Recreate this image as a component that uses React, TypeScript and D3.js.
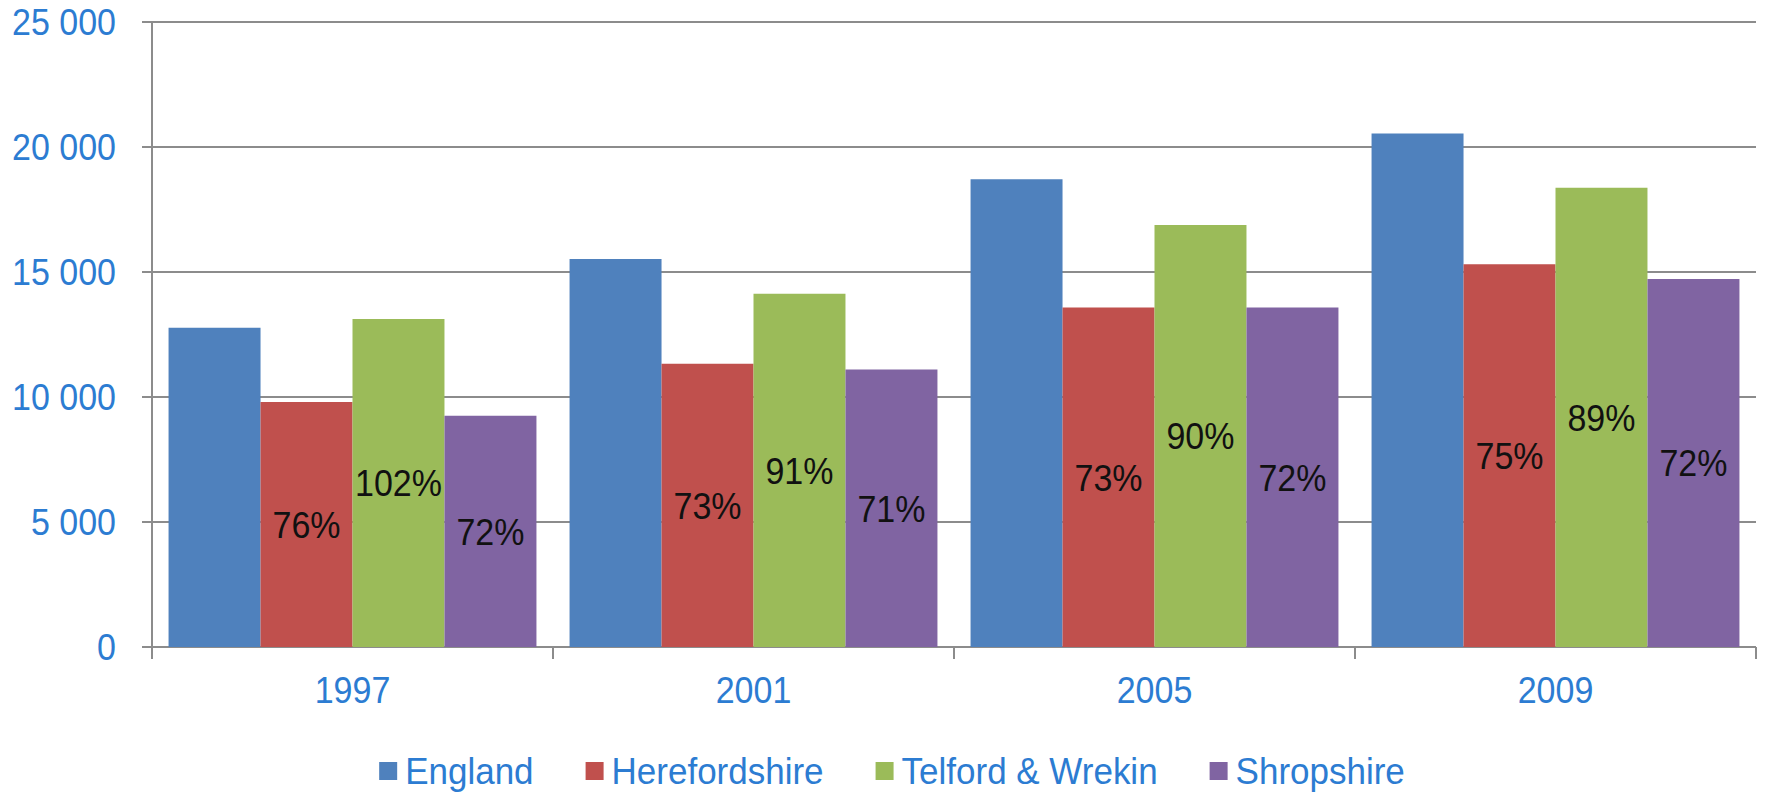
import React, { useEffect, useRef } from "react";
import * as d3 from "d3";

const years = ["1997", "2001", "2005", "2009"];
const seriesNames = ["England", "Herefordshire", "Telford & Wrekin", "Shropshire"];
const england = [12770, 15520, 18710, 20540];
const herefordshire = [9800, 11330, 13580, 15310];
const telford = [13120, 14130, 16880, 18370];
const shropshire = [9250, 11100, 13580, 14720];
const herefordshirePct = ["76%", "73%", "73%", "75%"];
const telfordPct = ["102%", "91%", "90%", "89%"];
const shropshirePct = ["72%", "71%", "72%", "72%"];
const yTicks = [0, 5000, 10000, 15000, 20000, 25000];

const colors = ["#4F81BD", "#C0504D", "#9BBB59", "#8064A2"];

export default function App() {
  const ref = useRef<SVGSVGElement>(null);

  useEffect(() => {
    const width = 1767,
      height = 794;
    const left = 152,
      right = 1756,
      top = 22,
      bottom = 647;
    const font = "'Liberation Sans', Arial, sans-serif";
    const textBlue = "#2C7CD2";
    const grid = "#8C8C8C";

    const values = [england, herefordshire, telford, shropshire];
    const labels: (string[] | null)[] = [null, herefordshirePct, telfordPct, shropshirePct];

    const svg = d3.select(ref.current);
    svg.selectAll("*").remove(); // clear previous chart
    svg.attr("width", width).attr("height", height);

    const x = d3.scaleBand().domain(years).range([left, right]).padding(0);
    const xs = d3
      .scaleBand()
      .domain(seriesNames)
      .range([0, x.bandwidth()])
      .paddingInner(0)
      .paddingOuter(0.18);
    const y = d3.scaleLinear().domain([0, 25000]).range([bottom, top]);

    const fmt = d3.formatLocale({
      decimal: ".",
      thousands: " ",
      grouping: [3],
      currency: ["", ""],
    }).format(",");

    // gridlines + left ticks
    svg
      .append("g")
      .selectAll("line")
      .data(yTicks)
      .enter()
      .append("line")
      .attr("x1", left - 10)
      .attr("x2", right)
      .attr("y1", (d) => y(d))
      .attr("y2", (d) => y(d))
      .attr("stroke", grid)
      .attr("stroke-width", 2);

    // y axis line
    svg
      .append("line")
      .attr("x1", left)
      .attr("x2", left)
      .attr("y1", top)
      .attr("y2", bottom + 12)
      .attr("stroke", grid)
      .attr("stroke-width", 2);

    // category ticks
    svg
      .append("g")
      .selectAll("line")
      .data(years)
      .enter()
      .append("line")
      .attr("x1", (d) => x(d)! + x.bandwidth())
      .attr("x2", (d) => x(d)! + x.bandwidth())
      .attr("y1", bottom)
      .attr("y2", bottom + 12)
      .attr("stroke", grid)
      .attr("stroke-width", 2);

    // y tick labels
    svg
      .append("g")
      .selectAll("text")
      .data(yTicks)
      .enter()
      .append("text")
      .attr("transform", (d) => `translate(116,${y(d)}) scale(1,1.1)`)
      .attr("dy", "0.36em")
      .attr("text-anchor", "end")
      .attr("fill", textBlue)
      .style("font-family", font)
      .style("font-size", "34px")
      .text((d) => fmt(d));

    // bars
    seriesNames.forEach((name, si) => {
      const g = svg.append("g");
      g.selectAll("rect")
        .data(values[si])
        .enter()
        .append("rect")
        .attr("x", (d, i) => x(years[i])! + xs(name)!)
        .attr("y", (d) => y(d))
        .attr("width", xs.bandwidth())
        .attr("height", (d) => y(0) - y(d))
        .attr("fill", colors[si]);

      const lab = labels[si];
      if (lab) {
        g.selectAll("text")
          .data(values[si])
          .enter()
          .append("text")
          .attr(
            "transform",
            (d, i) =>
              `translate(${x(years[i])! + xs(name)! + xs.bandwidth() / 2},${(y(d) + y(0)) / 2}) scale(1,1.1)`
          )
          .attr("dy", "0.36em")
          .attr("text-anchor", "middle")
          .attr("fill", "#111")
          .style("font-family", font)
          .style("font-size", "34px")
          .text((d, i) => lab[i]);
      }
    });

    // category labels
    svg
      .append("g")
      .selectAll("text")
      .data(years)
      .enter()
      .append("text")
      .attr("transform", (d) => `translate(${x(d)! + x.bandwidth() / 2},690) scale(1,1.1)`)
      .attr("dy", "0.36em")
      .attr("text-anchor", "middle")
      .attr("fill", textBlue)
      .style("font-family", font)
      .style("font-size", "34px")
      .text((d) => d);

    // legend
    const legend = svg.append("g");
    const items = legend
      .selectAll("g")
      .data(seriesNames)
      .enter()
      .append("g");
    items
      .append("rect")
      .attr("width", 18)
      .attr("height", 18)
      .attr("y", -9)
      .attr("fill", (d, i) => colors[i]);
    const texts = items
      .append("text")
      .attr("transform", "translate(26,0) scale(1,1.05)")
      .attr("dy", "0.36em")
      .attr("fill", textBlue)
      .style("font-family", font)
      .style("font-size", "35px")
      .text((d) => d);

    const widths: number[] = [];
    texts.each(function () {
      widths.push((this as SVGTextElement).getComputedTextLength());
    });
    const gap = 52;
    const itemW = widths.map((w) => 26 + w);
    const total = d3.sum(itemW) + gap * (itemW.length - 1);
    let cx = 892 - total / 2;
    items.attr("transform", (d, i) => {
      const t = `translate(${cx},771)`;
      cx += itemW[i] + gap;
      return t;
    });
  }, []);

  return (
    <div style={{ position: "absolute", left: 0, top: 0, background: "#fff" }}>
      <svg ref={ref} style={{ display: "block" }}></svg>
    </div>
  );
}
